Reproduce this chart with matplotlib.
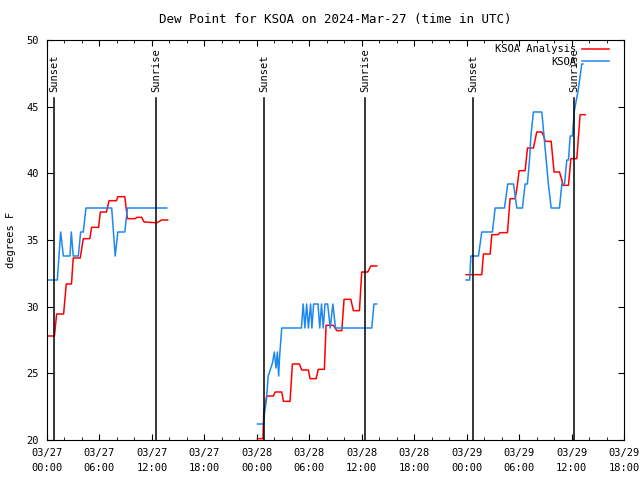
import numpy as np
import matplotlib
matplotlib.use('Agg')
import matplotlib.pyplot as plt

# hours since 2024-03-27 00:00 UTC
obs_t = [0.15, 1.18, 1.37, 1.56, 1.87, 2.63, 2.78, 3.0, 3.58, 3.85, 4.15, 4.46, 7.4, 7.6, 7.8, 8.1, 8.9, 9.2, 13.7,
         np.nan,
         24.07, 24.75, 24.9, 25.1, 25.3, 25.8, 26.0, 26.2, 26.35, 26.5, 26.6, 26.85, 29.1, 29.3, 29.5, 29.7, 29.9,
         30.15, 30.3, 30.5, 31.0, 31.2, 31.4, 31.6, 31.8, 32.1, 32.4, 32.7, 33.0, 37.15, 37.4, 37.7,
         np.nan,
         47.94, 48.35, 48.48, 49.35, 49.73, 50.95, 51.26, 52.33, 52.7, 53.36, 53.74, 54.38, 54.69, 54.95, 55.19,
         55.35, 55.64, 56.6, 56.85, 57.1, 57.35, 57.67, 58.62, 58.89, 59.2, 59.46, 59.65, 59.84, 60.1, 60.3, 60.8,
         61.17, 61.3]
obs_v = [32.0, 32.0, 33.8, 35.6, 33.8, 33.8, 35.6, 33.8, 33.8, 35.6, 35.6, 37.4, 37.4, 35.6, 33.8, 35.6, 35.6, 37.4, 37.4,
         np.nan,
         21.2, 21.2, 22.1, 23.0, 24.8, 25.8, 26.6, 25.4, 26.6, 24.8, 26.2, 28.4, 28.4, 30.2, 28.4, 30.2, 28.4,
         30.2, 28.4, 30.2, 30.2, 28.4, 30.2, 28.4, 30.2, 30.2, 28.4, 30.2, 28.4, 28.4, 30.2, 30.2,
         np.nan,
         32.0, 32.0, 33.8, 33.8, 35.6, 35.6, 37.4, 37.4, 39.2, 39.2, 37.4, 37.4, 39.2, 39.2, 41.0,
         42.8, 44.6, 44.6, 42.8, 41.0, 39.2, 37.4, 37.4, 39.2, 39.2, 41.0, 41.0, 42.8, 42.8, 44.6, 46.4,
         48.2, 48.2]

ana_t = [0.0, 0.85, 1.1, 1.9, 2.2, 2.8, 3.0, 3.8, 4.15, 4.9, 5.1, 5.9, 6.1, 6.8, 7.1, 7.95, 8.1, 8.9, 9.2,
         10.07, 10.3, 10.83, 11.1, 12.36, 12.6, 13.12, 13.8,
         np.nan,
         24.07, 24.7, 24.8, 25.13, 25.9, 26.09, 26.85, 27.04, 27.8, 28.07, 28.87, 29.14, 29.9, 30.09, 30.78,
         31.04, 31.73, 31.92, 32.07, 32.76, 32.95, 33.15, 33.72, 33.98, 34.75, 35.05, 35.74, 36.0, 36.69,
         37.03, 37.72,
         np.nan,
         47.94, 49.73, 49.92, 50.69, 50.88, 51.6, 51.8, 52.67, 52.97, 53.55, 53.8, 54.0, 54.69, 54.96, 55.64,
         56.02, 56.6, 56.8, 57.0, 57.67, 58.0, 58.62, 58.89, 59.0, 59.65, 59.92, 60.6, 60.98, 61.56]
ana_v = [27.8, 27.8, 29.45, 29.45, 31.7, 31.7, 33.65, 33.65, 35.1, 35.1, 35.95, 35.95, 37.1, 37.1, 37.95, 37.95, 38.25, 38.25, 36.6,
         36.6, 36.7, 36.7, 36.35, 36.3, 36.3, 36.5, 36.5,
         np.nan,
         20.1, 20.1, 22.1, 23.3, 23.3, 23.6, 23.6, 22.9, 22.9, 25.7, 25.7, 25.25, 25.25, 24.6, 24.6,
         25.3, 25.3, 28.6, 28.6, 28.6, 28.4, 28.2, 28.2, 30.55, 30.55, 29.7, 29.7, 32.6, 32.6,
         33.05, 33.05,
         np.nan,
         32.4, 32.4, 33.95, 33.95, 35.4, 35.4, 35.55, 35.55, 38.1, 38.1, 39.1, 40.2, 40.2, 41.9, 41.9,
         43.1, 43.1, 42.8, 42.4, 42.4, 40.1, 40.1, 39.5, 39.1, 39.1, 41.1, 41.1, 44.4, 44.4]

sunset = [0.82, 24.8, 48.7]
sunrise = [12.47, 36.42, 60.33]

tick_hours = list(range(0, 67, 6))
tick_labels = ['03/27\n00:00', '03/27\n06:00', '03/27\n12:00', '03/27\n18:00',
               '03/28\n00:00', '03/28\n06:00', '03/28\n12:00', '03/28\n18:00',
               '03/29\n00:00', '03/29\n06:00', '03/29\n12:00', '03/29\n18:00']

plt.rcParams['font.family'] = ['DejaVu Sans Mono']
plt.rcParams['font.size'] = 7.5

fig = plt.figure(figsize=(6.4, 4.8), dpi=100)
ax = fig.add_axes([47/640, 40/480, 577/640, 400/480])

ax.plot(ana_t, ana_v, color='#ff0000', lw=1.1, label='KSOA Analysis')
ax.plot(obs_t, obs_v, color='#1e88ee', lw=1.1, label='KSOA')

for h in sunset:
    ax.axvline(h, ymin=0, ymax=0.855, color='black', lw=1.1)
    ax.text(h, 46.1, 'Sunset', rotation=90, ha='center', va='bottom')
for h in sunrise:
    ax.axvline(h, ymin=0, ymax=0.855, color='black', lw=1.1)
    ax.text(h, 46.1, 'Sunrise', rotation=90, ha='center', va='bottom')

ax.set_xlim(0, 66)
ax.set_ylim(20, 50)
ax.set_xticks(tick_hours)
ax.set_xticklabels(tick_labels, linespacing=1.6)
ax.set_xticks(range(0, 67, 2), minor=True)
ax.set_yticks(range(20, 51, 5))
ax.tick_params(which='major', direction='in', length=4, top=True, right=True, pad=6)
ax.tick_params(which='minor', direction='in', length=2, top=True, right=True)
ax.tick_params(axis='y', which='minor', left=False, right=False)

ax.set_ylabel('degrees F', labelpad=7)
ax.set_title('Dew Point for KSOA on 2024-Mar-27 (time in UTC)', pad=12)
ax.legend(loc='upper right', frameon=False, markerfirst=False, handlelength=2.6,
          borderaxespad=0.2, labelspacing=0.25, handletextpad=0.6, borderpad=0.2,
          bbox_to_anchor=(0.982, 1.0))

fig.savefig('out.png', dpi=100)
